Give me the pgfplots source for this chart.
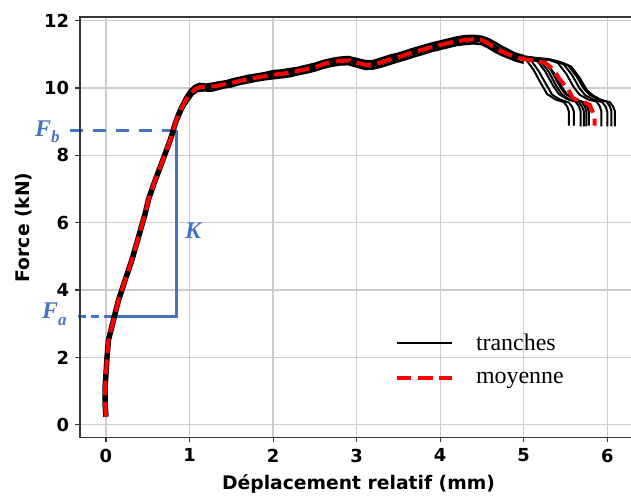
\documentclass[border=0pt]{standalone}
\usepackage{pgfplots}
\pgfplotsset{compat=1.18}
\usepackage{pgfplotstable}
\usepackage{fontspec}
\setmainfont{DejaVu Sans}
\newfontfamily\legfont{Liberation Serif}
\definecolor{annblue}{RGB}{68,114,196}
\definecolor{gridgray}{RGB}{205,205,205}
\definecolor{spinecol}{RGB}{55,55,55}

\pgfplotstableread{
x y
0.00 0.24
-0.01 0.60
-0.01 1.13
0.00 1.50
0.01 1.92
0.03 2.52
0.07 2.91
0.10 3.21
0.15 3.70
0.23 4.30
0.31 4.89
0.39 5.58
0.47 6.28
0.51 6.70
0.58 7.20
0.65 7.66
0.71 8.06
0.77 8.46
0.83 8.95
0.87 9.22
0.91 9.44
0.96 9.66
1.01 9.84
1.07 9.97
1.13 10.03
1.24 10.03
1.36 10.08
1.48 10.14
1.62 10.22
1.76 10.29
1.88 10.34
2.00 10.39
2.16 10.44
2.32 10.52
2.48 10.60
2.64 10.74
2.78 10.80
2.92 10.82
3.02 10.74
3.12 10.68
3.24 10.72
3.36 10.82
3.50 10.92
3.64 11.03
3.82 11.16
4.00 11.28
4.14 11.36
4.28 11.42
4.40 11.45
4.48 11.44
4.56 11.35
4.64 11.22
4.72 11.10
4.82 11.00
4.92 10.90
}\bandtable

\pgfplotstableread{
x y
0.00 0.24
-0.01 0.60
-0.01 1.13
0.00 1.50
0.01 1.92
0.03 2.52
0.07 2.91
0.10 3.21
0.15 3.70
0.23 4.30
0.31 4.89
0.39 5.58
0.47 6.28
0.51 6.70
0.58 7.20
0.65 7.66
0.71 8.06
0.77 8.46
0.83 8.95
0.87 9.22
0.91 9.44
0.96 9.66
1.01 9.84
1.07 9.97
1.13 10.03
1.24 10.03
1.36 10.08
1.48 10.14
1.62 10.22
1.76 10.29
1.88 10.34
2.00 10.39
2.16 10.44
2.32 10.52
2.48 10.60
2.64 10.74
2.78 10.80
2.92 10.82
3.02 10.74
3.12 10.68
3.24 10.72
3.36 10.82
3.50 10.92
3.64 11.03
3.82 11.16
4.00 11.28
4.14 11.36
4.28 11.42
4.40 11.45
4.48 11.44
4.56 11.35
4.64 11.22
4.72 11.10
4.82 11.00
4.92 10.90
5.04 10.84
5.16 10.80
5.26 10.74
5.35 10.57
5.43 10.26
5.53 9.97
5.59 9.69
5.71 9.59
5.79 9.50
5.85 9.15
5.85 8.88
}\meantable

\pgfplotsset{tail/.style={forget plot, black, line width=2bp, line join=round}}

\begin{document}
\begin{tikzpicture}
\begin{axis}[
  scale only axis, width=551bp, height=420.7bp,
  xmin=-0.311, xmax=6.284, ymin=-0.386, ymax=12.109,
  xtick={0,1,2,3,4,5,6}, ytick={0,2,4,6,8,10,12},
  grid=major, major grid style={gridgray, line width=1.2bp},
  axis line style={draw=none},
  tick align=outside, tick pos=left, major tick length=4.5bp,
  tick style={spinecol, line width=1.1bp},
  /pgf/number format/assume math mode=true,
  ticklabel style={font=\fontsize{18}{18}\selectfont\bfseries},
  yticklabel style={xshift=-3bp},
  xticklabel style={yshift=-3bp},
  xlabel={Déplacement relatif (mm)}, ylabel={Force (kN)},
  label style={font=\fontsize{18.8}{20}\selectfont\bfseries},
  xlabel style={at={(axis description cs:0.5054,-0.1243)}, anchor=base},
  ylabel style={at={(axis description cs:-0.091,0.5)}, anchor=base},
  clip=false,
  legend style={draw=none, fill=none, font=\legfont\fontsize{24}{24}\selectfont,
    at={(axis description cs:0.565,0.2518)}, anchor=north west, row sep=20bp,
    column sep=22.5bp, nodes={inner sep=0pt}},
  legend cell align=left,
  legend image code/.code={\draw[#1] (0bp,0bp) -- (55bp,0bp);},
]
% blue annotations
\addplot[forget plot, annblue, line width=3bp, dash pattern=on 13bp off 10bp] coordinates {(-0.43,8.75) (0.846,8.75)};
\addplot[forget plot, annblue, line width=3bp, dash pattern=on 8bp off 5bp] coordinates {(-0.335,3.21) (0.10,3.21)};
\addplot[forget plot, annblue, line width=3bp] coordinates {(0.846,8.75) (0.846,3.21) (0.10,3.21)};

% tranches: common band
\addplot[forget plot, black, line width=5.5bp, line join=round] table {\bandtable};
\addplot[forget plot, black, line width=2.6bp, line join=round] coordinates {
(0.90,9.47) (0.95,9.72) (1.00,9.92) (1.06,10.06) (1.12,10.12) (1.2,10.1) (1.28,10.13) (1.36,10.17) (1.44,10.2) (1.52,10.26) (1.6,10.3) (1.7,10.36) (1.8,10.4) (1.9,10.44) (2.0,10.5) (2.1,10.52) (2.2,10.56) (2.3,10.6) (2.4,10.66) (2.5,10.72) (2.6,10.8) (2.7,10.86) (2.8,10.9) (2.9,10.92) (3.0,10.86) (3.1,10.8) (3.2,10.8) (3.3,10.88) (3.4,10.96) (3.5,11.02) (3.6,11.1) (3.7,11.18) (3.8,11.25) (3.9,11.32) (4.0,11.38) (4.1,11.44) (4.2,11.5) (4.3,11.54) (4.4,11.55) (4.5,11.52) (4.58,11.45) (4.66,11.34) (4.74,11.22) (4.82,11.12) (4.9,11.02) (5.0,10.95)};
\addplot[forget plot, black, line width=2.6bp, line join=round] coordinates {
(0.86,9.05) (0.92,9.38) (0.98,9.62) (1.04,9.82) (1.1,9.92) (1.18,9.93) (1.26,9.92) (1.34,9.97) (1.42,10.02) (1.5,10.05) (1.6,10.12) (1.7,10.17) (1.8,10.22) (1.9,10.26) (2.0,10.29) (2.1,10.32) (2.2,10.35) (2.3,10.41) (2.4,10.46) (2.5,10.52) (2.6,10.6) (2.7,10.66) (2.8,10.7) (2.9,10.71) (3.0,10.64) (3.1,10.57) (3.2,10.58) (3.3,10.64) (3.4,10.72) (3.5,10.8) (3.6,10.87) (3.7,10.95) (3.8,11.02) (3.9,11.1) (4.0,11.16) (4.1,11.22) (4.2,11.28) (4.3,11.31) (4.4,11.33) (4.5,11.3) (4.58,11.2) (4.66,11.08) (4.74,10.98) (4.82,10.9) (4.9,10.82) (5.0,10.75)};
% tranches: tails
\addplot[tail] coordinates {(4.90,10.92) (5.02,10.87) (5.12,10.53) (5.21,10.12) (5.28,9.82) (5.38,9.66) (5.48,9.58) (5.52,9.45) (5.54,9.30) (5.54,8.88)};
\addplot[tail] coordinates {(4.90,10.90) (5.00,10.86) (5.08,10.85) (5.18,10.50) (5.27,10.10) (5.34,9.80) (5.44,9.65) (5.54,9.57) (5.58,9.44) (5.60,9.30) (5.60,8.88)};
\addplot[tail] coordinates {(4.90,10.93) (5.04,10.86) (5.16,10.82) (5.26,10.48) (5.35,10.08) (5.42,9.82) (5.52,9.67) (5.62,9.60) (5.66,9.46) (5.68,9.32) (5.68,8.86)};
\addplot[tail] coordinates {(4.90,10.88) (5.04,10.84) (5.20,10.80) (5.30,10.48) (5.39,10.06) (5.46,9.80) (5.56,9.64) (5.66,9.58) (5.70,9.44) (5.72,9.30) (5.72,8.86)};
\addplot[tail] coordinates {(4.90,10.94) (5.04,10.88) (5.14,10.84) (5.23,10.82) (5.33,10.52) (5.42,10.10) (5.49,9.84) (5.59,9.68) (5.69,9.60) (5.73,9.46) (5.75,9.30) (5.75,8.86)};
\addplot[tail] coordinates {(4.90,10.90) (5.04,10.85) (5.16,10.80) (5.26,10.78) (5.36,10.45) (5.45,10.05) (5.52,9.80) (5.62,9.65) (5.72,9.58) (5.76,9.45) (5.78,9.30) (5.78,8.88)};
\addplot[tail] coordinates {(4.90,10.95) (5.04,10.90) (5.16,10.87) (5.30,10.84) (5.41,10.74) (5.51,10.42) (5.60,10.02) (5.67,9.80) (5.77,9.66) (5.87,9.60) (5.91,9.46) (5.93,9.30) (5.93,8.86)};
\addplot[tail] coordinates {(4.90,10.96) (5.04,10.91) (5.16,10.88) (5.30,10.84) (5.40,10.78) (5.48,10.70) (5.58,10.38) (5.67,9.98) (5.74,9.78) (5.84,9.65) (5.94,9.58) (5.98,9.45) (6.00,9.30) (6.00,8.86)};
\addplot[tail] coordinates {(4.90,10.97) (5.04,10.92) (5.16,10.88) (5.30,10.85) (5.42,10.78) (5.53,10.68) (5.63,10.36) (5.72,9.98) (5.79,9.80) (5.89,9.66) (5.99,9.60) (6.03,9.46) (6.05,9.32) (6.05,8.86)};
\addplot[tail] coordinates {(4.90,10.98) (5.04,10.93) (5.16,10.89) (5.30,10.86) (5.45,10.76) (5.57,10.63) (5.67,10.30) (5.76,9.92) (5.83,9.78) (5.93,9.64) (6.03,9.58) (6.07,9.45) (6.09,9.32) (6.09,8.86)};

% mean
\addplot[forget plot, red, line width=4bp, dash pattern=on 14.8bp off 6.4bp] table {\meantable};

\addlegendimage{black, line width=2.2bp}
\addlegendentry{tranches}
\addlegendimage{red, line width=4bp, dash pattern=on 14.8bp off 6.4bp}
\addlegendentry{moyenne}
\end{axis}
\draw[color=spinecol, line width=1.3bp] (current axis.north east) -- (current axis.north west) -- (current axis.south west) -- (current axis.south east);
\path ([shift={(-20.3bp,301bp)}]current axis.south west) node[anchor=base east, inner sep=0pt, text=annblue, font=\legfont\fontsize{24}{24}\selectfont\bfseries\itshape] {F\raisebox{-6bp}{\fontsize{17}{17}\selectfont b}};
\path ([shift={(-13.3bp,118.7bp)}]current axis.south west) node[anchor=base east, inner sep=0pt, text=annblue, font=\legfont\fontsize{24}{24}\selectfont\bfseries\itshape] {F\raisebox{-7bp}{\fontsize{17}{17}\selectfont a}};
\path ([shift={(105bp,199bp)}]current axis.south west) node[anchor=base west, inner sep=0pt, text=annblue, font=\legfont\fontsize{24}{24}\selectfont\bfseries\itshape] {K};
\pgfresetboundingbox
\path[use as bounding box] ([shift={(-80bp,-59.3bp)}]current axis.south west) rectangle ([shift={(0bp,17bp)}]current axis.north east);
\end{tikzpicture}
\end{document}
